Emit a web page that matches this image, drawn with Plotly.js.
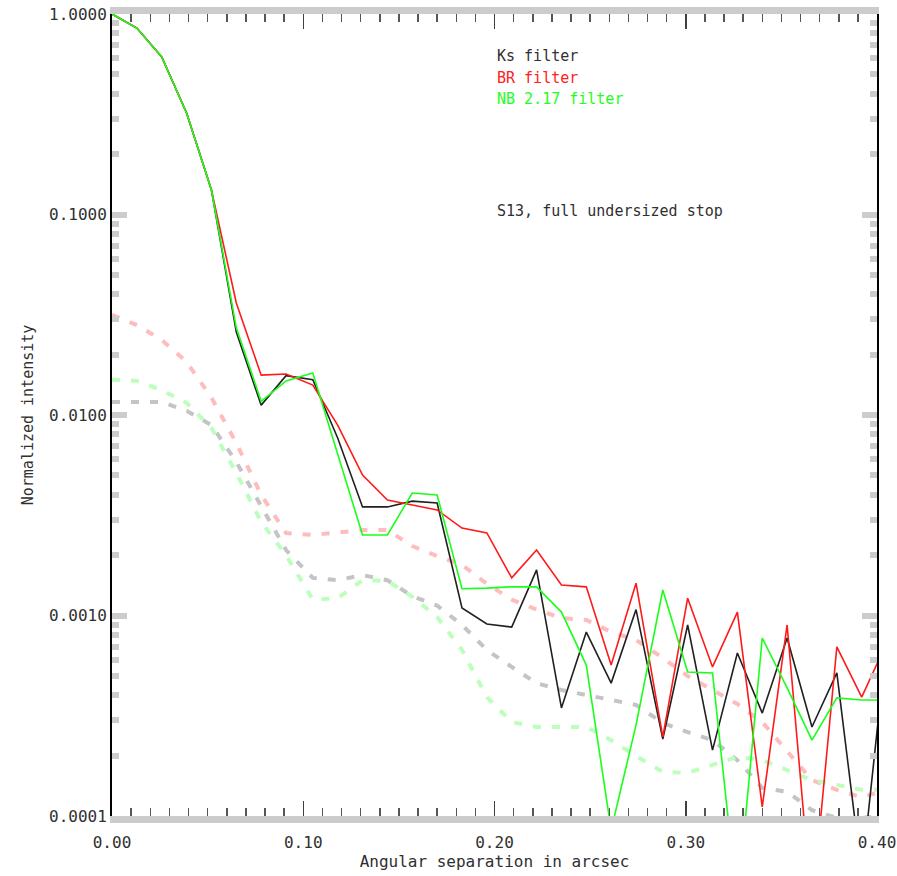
<!DOCTYPE html>
<html>
<head>
<meta charset="utf-8">
<script src="https://cdn.plot.ly/plotly-3.0.1.min.js"></script>
<style>
  html, body { margin: 0; padding: 0; background: #ffffff; }
  #chart { width: 897px; height: 876px; }
</style>
</head>
<body>
<div id="chart"></div>
<script>
// Angular separation (arcsec), one sample per detector pixel
const separation = [0.000, 0.013, 0.026, 0.039, 0.052, 0.065, 0.078, 0.091, 0.105, 0.118,
                    0.131, 0.144, 0.157, 0.170, 0.183, 0.196, 0.209, 0.222, 0.235, 0.248,
                    0.261, 0.274, 0.288, 0.301, 0.314, 0.327, 0.340, 0.353, 0.366, 0.379,
                    0.392, 0.405];

// Solid profiles
const ksProfile = [1.0, 0.851, 0.610, 0.321, 0.1325, 0.0259, 0.0112, 0.0157, 0.0150, 0.00768,
                   0.00348, 0.00348, 0.00372, 0.00364, 0.00109, 0.000907, 0.000876, 0.00169, 0.000346, 0.000827,
                   0.000460, 0.00107, 0.000242, 0.000897, 0.000213, 0.000650, 0.000326, 0.000772, 0.000278, 0.000517,
                   0.0000508, 0.000738];
const brProfile = [1.0, 0.851, 0.610, 0.321, 0.1325, 0.0362, 0.0158, 0.0160, 0.0141, 0.00891,
                   0.00502, 0.00377, 0.00356, 0.00336, 0.00273, 0.00258, 0.00154, 0.00212, 0.00142, 0.00139,
                   0.000566, 0.00145, 0.000248, 0.00122, 0.000554, 0.00104, 0.000111, 0.000897, 0.0000340, 0.000697,
                   0.000392, 0.000729];
const nbProfile = [1.0, 0.851, 0.610, 0.321, 0.1325, 0.0272, 0.0117, 0.0148, 0.0162, 0.00646,
                   0.00252, 0.00252, 0.00408, 0.00399, 0.00136, 0.00137, 0.00139, 0.00139, 0.00104, 0.000566,
                   0.0000852, 0.000284, 0.00134, 0.000523, 0.000517, 0.0000360, 0.000772, 0.000435, 0.000239, 0.000388,
                   0.000379, 0.000379];

// Dashed (light) profiles
const ksDashed = [0.0116, 0.0116, 0.0116, 0.0105, 0.00891, 0.00583, 0.00348, 0.00212, 0.00154, 0.00150,
                  0.00159, 0.00150, 0.00125, 0.00112, 0.000897, 0.000673, 0.000554, 0.000460, 0.000425, 0.000401,
                  0.000379, 0.000358, 0.000291, 0.000262, 0.000239, 0.000190, 0.000138, 0.000132, 0.000107, 0.0000977,
                  0.0000977, 0.000101];
const brDashed = [0.0316, 0.0281, 0.0237, 0.0184, 0.0122, 0.00725, 0.00399, 0.00258, 0.00252, 0.00258,
                  0.00267, 0.00267, 0.00222, 0.00198, 0.00179, 0.00144, 0.00120, 0.00107, 0.000972, 0.000950,
                  0.000827, 0.000755, 0.000614, 0.000499, 0.000425, 0.000362, 0.000294, 0.000209, 0.000151, 0.000135,
                  0.000124, 0.000135];
const nbDashed = [0.0150, 0.0148, 0.0133, 0.0115, 0.00861, 0.00514, 0.00293, 0.00200, 0.00120, 0.00122,
                  0.00150, 0.00149, 0.00124, 0.000983, 0.000673, 0.000392, 0.000294, 0.000278, 0.000278, 0.000278,
                  0.000239, 0.000199, 0.000166, 0.000164, 0.000180, 0.000197, 0.000190, 0.000170, 0.000151, 0.000143,
                  0.000135, 0.000135];

// Tick labels
const xTickVals = [0.0, 0.1, 0.2, 0.3, 0.4];
const xTickText = ['0.00', '0.10', '0.20', '0.30', '0.40'];
const yTickVals = [1, 0.1, 0.01, 0.001, 0.0001];
const yTickText = ['1.0000', '0.1000', '0.0100', '0.0010', '0.0001'];

const legendLabels = ['Ks filter', 'BR filter', 'NB 2.17 filter'];
const noteText = 'S13, full undersized stop';

const yMinor = [];
for (const d of [0.0001, 0.001, 0.01, 0.1]) {
  for (let k = 2; k <= 9; k++) yMinor.push(d * k);
}

const mono = 'DejaVu Sans Mono, monospace';
const dashStyle = '8px,11px';

const traces = [
  {x: separation, y: ksDashed, mode: 'lines', line: {color: '#c4c4c4', width: 4, dash: dashStyle}},
  {x: separation, y: brDashed, mode: 'lines', line: {color: '#ffbcbc', width: 4, dash: dashStyle}},
  {x: separation, y: nbDashed, mode: 'lines', line: {color: '#bcffbc', width: 4, dash: dashStyle}},
  {x: separation, y: ksProfile, mode: 'lines', line: {color: '#202020', width: 1.6}},
  {x: separation, y: brProfile, mode: 'lines', line: {color: '#ff1a1a', width: 1.6}},
  {x: separation, y: nbProfile, mode: 'lines', line: {color: '#1aff1a', width: 1.6}}
];

const txtColors = ['#303030', '#ff2020', '#20ff20'];
const txtY = [0.9476, 0.9202, 0.894];
const annotations = legendLabels.map((t, i) => ({
  text: t, xref: 'paper', yref: 'paper', x: 0.5007, y: txtY[i],
  xanchor: 'left', yanchor: 'middle', showarrow: false,
  font: {family: mono, size: 15, color: txtColors[i]}
}));
annotations.push({
  text: noteText, xref: 'paper', yref: 'paper', x: 0.5007, y: 0.7544,
  xanchor: 'left', yanchor: 'middle', showarrow: false,
  font: {family: mono, size: 15, color: '#303030'}
});

const layout = {
  width: 897, height: 876,
  margin: {l: 112, r: 20, t: 14, b: 60},
  paper_bgcolor: '#ffffff', plot_bgcolor: '#ffffff',
  showlegend: false,
  font: {family: mono, color: '#303030'},
  xaxis: {
    range: [0, 0.4], showgrid: false, zeroline: false,
    tickmode: 'array', tickvals: xTickVals, ticktext: xTickText,
    ticks: 'inside', ticklen: 15, tickwidth: 1.5, tickcolor: '#404040',
    minor: {ticks: 'inside', dtick: 0.01, tick0: 0, ticklen: 8, tickwidth: 1.5, tickcolor: '#555555'},
    showline: true, linecolor: '#cccccc', linewidth: 7, mirror: 'ticks',
    tickfont: {family: mono, size: 16, color: '#303030'},
    ticklabelstandoff: 6,
    title: {text: 'Angular separation in arcsec', font: {family: mono, size: 16, color: '#303030'}, standoff: 2}
  },
  yaxis: {
    type: 'log', range: [-4, 0], showgrid: false, zeroline: false,
    tickmode: 'array', tickvals: yTickVals, ticktext: yTickText,
    ticks: 'inside', ticklen: 15, tickwidth: 6, tickcolor: '#cccccc',
    minor: {ticks: 'inside', tickmode: 'array', tickvals: yMinor, ticklen: 7, tickwidth: 6, tickcolor: '#cccccc'},
    showline: true, linecolor: '#000000', linewidth: 2, mirror: 'ticks',
    tickfont: {family: mono, size: 16, color: '#303030'},
    title: {text: 'Normalized intensity', font: {family: mono, size: 15, color: '#303030'}, standoff: 12}
  },
  annotations: annotations
};

Plotly.newPlot('chart', traces, layout, {staticPlot: true, displayModeBar: false});
</script>
</body>
</html>
